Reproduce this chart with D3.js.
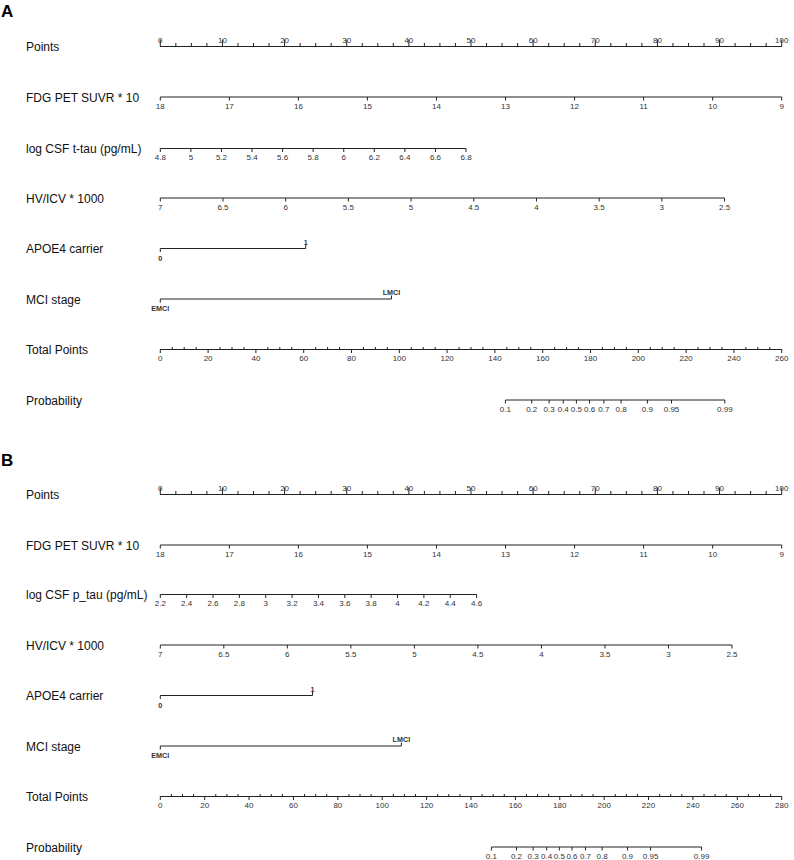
<!DOCTYPE html>
<html><head><meta charset="utf-8">
<script src="https://cdn.jsdelivr.net/npm/d3@7"></script>
<style>
body{margin:0;background:#fff}
svg{display:block;background:#fff}
text{font-family:"Liberation Sans",Arial,Helvetica,sans-serif}
</style>
</head><body>
<svg id="chart" width="794" height="860"></svg>
<script>
// ---------------- DATA ----------------
const panelLetters = ["A", "B"];
const rowLabelsA = ["Points", "FDG PET SUVR * 10", "log CSF t-tau (pg/mL)", "HV/ICV * 1000", "APOE4 carrier", "MCI stage", "Total Points", "Probability"];
const rowLabelsB = ["Points", "FDG PET SUVR * 10", "log CSF p_tau (pg/mL)", "HV/ICV * 1000", "APOE4 carrier", "MCI stage", "Total Points", "Probability"];

const pointsTicks = [0, 10, 20, 30, 40, 50, 60, 70, 80, 90, 100];

const fdgTicks = [18, 17, 16, 15, 14, 13, 12, 11, 10, 9];
const fdgRange = [18, 9];
const fdgPointsA = [0, 100];
const fdgPointsB = [0, 100];

const tTauTicks = [4.8, 5, 5.2, 5.4, 5.6, 5.8, 6, 6.2, 6.4, 6.6, 6.8];
const tTauRange = [4.8, 6.8];
const tTauPointsA = [0, 49.2];

const pTauTicks = [2.2, 2.4, 2.6, 2.8, 3, 3.2, 3.4, 3.6, 3.8, 4, 4.2, 4.4, 4.6];
const pTauRange = [2.2, 4.6];
const pTauPointsB = [0, 50.9];

const hvTicks = [7, 6.5, 6, 5.5, 5, 4.5, 4, 3.5, 3, 2.5];
const hvRange = [7, 2.5];
const hvPointsA = [0, 90.8];
const hvPointsB = [0, 92.0];

const apoeCats = ["0", "1"];
const apoePointsA = [0, 23.4];
const apoePointsB = [0, 24.5];

const mciCats = ["EMCI", "LMCI"];
const mciPointsA = [0, 37.2];
const mciPointsB = [0, 38.8];

const totalTicksA = [0, 20, 40, 60, 80, 100, 120, 140, 160, 180, 200, 220, 240, 260];
const totalTicksB = [0, 20, 40, 60, 80, 100, 120, 140, 160, 180, 200, 220, 240, 260, 280];

const probTicks = [0.1, 0.2, 0.3, 0.4, 0.5, 0.6, 0.7, 0.8, 0.9, 0.95, 0.99];
const probTotalA = [144.4, 155.4, 162.7, 168.6, 174.1, 179.6, 185.6, 192.8, 203.8, 213.9, 236.2];
const probTotalB = [149.2, 160.5, 168.0, 174.1, 179.8, 185.5, 191.6, 199.1, 210.5, 220.9, 243.9];

// ---------------- LAYOUT ----------------
const X0 = 160.3, X1 = 781.7;
const rowsA = [46.5, 97, 148.5, 198, 248.5, 299, 349.5, 400];
const rowsB = [494.5, 545, 594.5, 645, 695.5, 746, 796.5, 847];
const letterY = [17, 466];
const LINE = "#222", TXT = "#111", TICKTXT = "#333";

const svg = d3.select("#chart");
const pointsX = d3.scaleLinear().domain([0, 100]).range([X0, X1]);

function styleAxis(sel, fs) {
  sel.attr("font-size", null).attr("font-family", null);
  sel.select(".domain").attr("stroke", LINE).attr("stroke-width", 1);
  sel.selectAll(".tick line").attr("stroke", LINE).attr("stroke-width", 1);
  sel.selectAll(".tick text").attr("fill", TICKTXT).style("font-size", (fs || 8) + "px");
}

function contRow(g, y, valueRange, ptsRange, ticks) {
  const s = d3.scaleLinear().domain(valueRange).range(ptsRange.map(pointsX));
  const ax = d3.axisBottom(s).tickValues(ticks).tickFormat(d => String(d))
    .tickSize(3.5).tickSizeOuter(0).tickPadding(2.8).offset(0);
  g.append("g").attr("transform", `translate(0,${y})`).call(ax).call(styleAxis);
}

function catRow(g, y, cats, ptsRange) {
  const xs = ptsRange.map(pointsX);
  const r = g.append("g");
  r.append("line").attr("x1", xs[0]).attr("x2", xs[1]).attr("y1", y).attr("y2", y)
    .attr("stroke", LINE).attr("stroke-width", 1);
  r.append("line").attr("x1", xs[0]).attr("x2", xs[0]).attr("y1", y).attr("y2", y + 3.5)
    .attr("stroke", LINE);
  r.append("text").attr("x", xs[0]).attr("y", y + 12).attr("text-anchor", "middle")
    .attr("fill", "#333").style("font-size", "7.2px").style("font-weight", "bold").text(cats[0]);
  r.append("line").attr("x1", xs[1]).attr("x2", xs[1]).attr("y1", y).attr("y2", y - 3.5)
    .attr("stroke", LINE);
  r.append("text").attr("x", xs[1]).attr("y", y - 3.8).attr("text-anchor", "middle")
    .attr("fill", "#333").style("font-size", "7.2px").style("font-weight", "bold").text(cats[1]);
}

function panel(idx, rows, labels, cfg) {
  const g = svg.append("g");
  g.append("text").attr("x", 1).attr("y", letterY[idx]).style("font-size", "17px")
    .style("font-weight", "bold").attr("fill", "#000").text(panelLetters[idx]);

  labels.forEach((lab, i) => {
    g.append("text").attr("x", 26).attr("y", rows[i] + 4.5).style("font-size", "12px")
      .attr("fill", TXT).text(lab);
  });

  // Points axis (top)
  const pMinor = d3.range(0, 100.01, 2.5).filter(v => v % 10 !== 0);
  g.append("g").attr("transform", `translate(0,${rows[0]})`)
    .call(d3.axisTop(pointsX).tickValues(pMinor).tickFormat("").tickSize(3.5).tickSizeOuter(0).offset(0))
    .call(styleAxis);
  g.append("g").attr("transform", `translate(0,${rows[0]})`)
    .call(d3.axisTop(pointsX).tickValues(pointsTicks).tickFormat(d => String(d)).tickSize(7).tickSizeOuter(0).tickPadding(-3.3).offset(0))
    .call(styleAxis);

  contRow(g, rows[1], fdgRange, cfg.fdgPts, fdgTicks);
  contRow(g, rows[2], cfg.csfRange, cfg.csfPts, cfg.csfTicks);
  contRow(g, rows[3], hvRange, cfg.hvPts, hvTicks);
  catRow(g, rows[4], apoeCats, cfg.apoePts);
  catRow(g, rows[5], mciCats, cfg.mciPts);

  // Total points
  const tMax = cfg.totalTicks[cfg.totalTicks.length - 1];
  const totalX = d3.scaleLinear().domain([0, tMax]).range([X0, X1]);
  const tMinor = d3.range(0, tMax + 0.01, 5).filter(v => v % 20 !== 0);
  g.append("g").attr("transform", `translate(0,${rows[6]})`)
    .call(d3.axisBottom(totalX).tickValues(tMinor).tickFormat("").tickSize(-2.5).tickSizeOuter(0).offset(0))
    .call(styleAxis);
  g.append("g").attr("transform", `translate(0,${rows[6]})`)
    .call(d3.axisBottom(totalX).tickValues(cfg.totalTicks).tickFormat(d => String(d)).tickSize(3.5).tickSizeOuter(0).tickPadding(2.8).offset(0))
    .call(styleAxis);

  // Probability
  const probX = d3.scaleLinear().domain(probTicks).range(cfg.probTotal.map(totalX));
  g.append("g").attr("transform", `translate(0,${rows[7]})`)
    .call(d3.axisBottom(probX).tickValues(probTicks).tickFormat(d => String(d)).tickSize(3.5).tickSizeOuter(0).tickPadding(2.8).offset(0))
    .call(styleAxis);
}

panel(0, rowsA, rowLabelsA, {
  fdgPts: fdgPointsA, csfRange: tTauRange, csfPts: tTauPointsA, csfTicks: tTauTicks,
  hvPts: hvPointsA, apoePts: apoePointsA, mciPts: mciPointsA,
  totalTicks: totalTicksA, probTotal: probTotalA
});
panel(1, rowsB, rowLabelsB, {
  fdgPts: fdgPointsB, csfRange: pTauRange, csfPts: pTauPointsB, csfTicks: pTauTicks,
  hvPts: hvPointsB, apoePts: apoePointsB, mciPts: mciPointsB,
  totalTicks: totalTicksB, probTotal: probTotalB
});
</script>
</body></html>
